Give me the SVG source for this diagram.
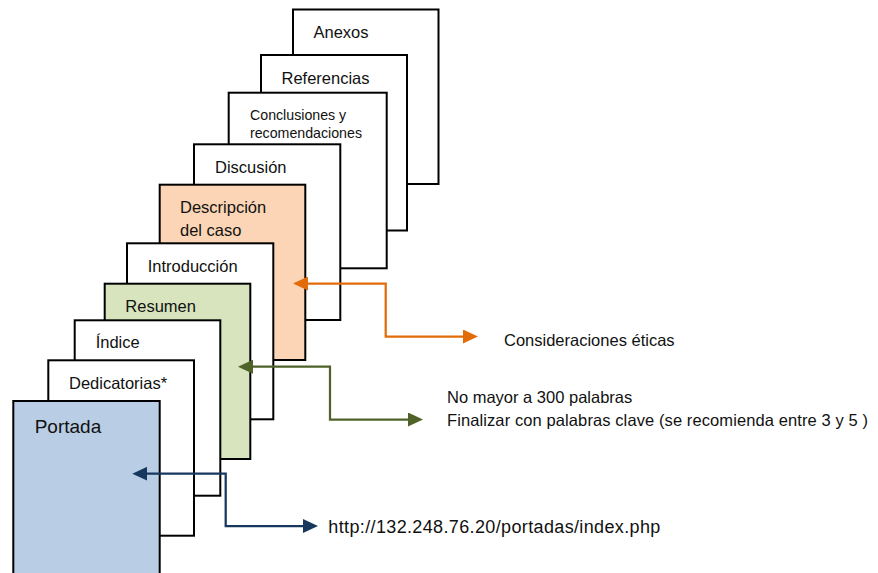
<svg xmlns="http://www.w3.org/2000/svg" width="878" height="573" viewBox="0 0 878 573">
<style>
.pg{stroke:#000;stroke-width:2;fill:#fff}
.or{fill:#FBD5B5}.gr{fill:#D7E4BD}.bl{fill:#B9CDE5}
text{font-family:"Liberation Sans",Arial,sans-serif;font-size:16.5px;fill:#111}
.sm{font-size:14.2px}
.big{font-size:19px}
.url{font-size:18px}
.c{fill:none;stroke-width:2.25}
</style>
<defs>
<marker id="ao" markerUnits="userSpaceOnUse" markerWidth="15" markerHeight="14" refX="4" refY="7" orient="auto-start-reverse"><path d="M0,0 L15,7 L0,14 z" fill="#E36C0A"/></marker>
<marker id="ag" markerUnits="userSpaceOnUse" markerWidth="15" markerHeight="14" refX="4" refY="7" orient="auto-start-reverse"><path d="M0,0 L15,7 L0,14 z" fill="#4F6228"/></marker>
<marker id="ab" markerUnits="userSpaceOnUse" markerWidth="15" markerHeight="14" refX="4" refY="7" orient="auto-start-reverse"><path d="M0,0 L15,7 L0,14 z" fill="#17375E"/></marker>
</defs>
<rect width="878" height="573" fill="#fff"/>
<g id="anexos"><rect class="pg" x="293" y="9.5" width="145.5" height="174.5"/><text x="313.5" y="38">Anexos</text></g>
<g id="referencias"><rect class="pg" x="261" y="55" width="146" height="175.5"/><text x="281.5" y="84">Referencias</text></g>
<g id="conclusiones"><rect class="pg" x="228.7" y="92.7" width="158" height="175.6"/><text class="sm" x="250" y="120">Conclusiones y</text><text class="sm" x="250" y="137.5">recomendaciones</text></g>
<g id="discusion"><rect class="pg" x="194" y="144.3" width="146.3" height="175.7"/><text x="215" y="173">Discusión</text></g>
<g id="descripcion"><rect class="pg or" x="159.7" y="184.7" width="145.6" height="175.3"/><text x="180" y="213.3">Descripción</text><text x="180" y="235.7">del caso</text></g>
<g id="introduccion"><rect class="pg" x="127" y="243.3" width="146.3" height="176"/><text x="147.7" y="272.3">Introducción</text></g>
<g id="resumen"><rect class="pg gr" x="104.7" y="283.7" width="145.6" height="175.3"/><text x="125.3" y="312.3">Resumen</text></g>
<g id="indice"><rect class="pg" x="74.7" y="320.3" width="145.6" height="175.4"/><text x="95.7" y="347.7">Índice</text></g>
<g id="dedicatorias"><rect class="pg" x="48.3" y="360.3" width="145.7" height="175.4"/><text x="69" y="389">Dedicatorias*</text></g>
<g id="portada"><rect class="pg bl" x="13.3" y="401" width="146.4" height="180"/><text class="big" x="34.7" y="433.3">Portada</text></g>
<g id="connectors">
<path class="c" stroke="#E36C0A" d="M304,283.5 H385.7 V336.5 H467" marker-start="url(#ao)" marker-end="url(#ao)"/>
<path class="c" stroke="#4F6228" d="M249,366.7 H330 V419.5 H412" marker-start="url(#ag)" marker-end="url(#ag)"/>
<path class="c" stroke="#17375E" d="M143.3,473.7 H225.7 V526 H307" marker-start="url(#ab)" marker-end="url(#ab)"/>
</g>
<g id="labels">
<text x="504" y="345.5">Consideraciones éticas</text>
<text x="447" y="403.3">No mayor a 300 palabras</text>
<text x="447" y="426" textLength="421" lengthAdjust="spacing">Finalizar con palabras clave (se recomienda entre 3 y 5 )</text>
<text class="url" x="328.3" y="533.3" textLength="332" lengthAdjust="spacing">http://132.248.76.20/portadas/index.php</text>
</g>
</svg>
